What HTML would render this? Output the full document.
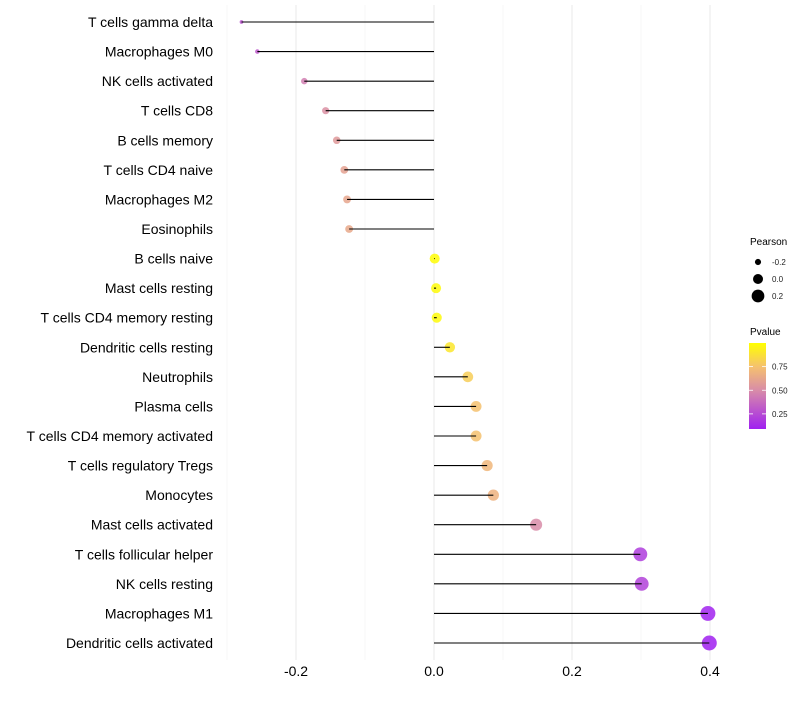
<!DOCTYPE html>
<html><head><meta charset="utf-8"><style>
body{margin:0;background:#fff;}
svg text{font-family:"Liberation Sans",sans-serif;}
</style></head><body>
<svg id="chart" width="800" height="700" xmlns="http://www.w3.org/2000/svg">
<g id="grid"></g>
<g id="ylabels"></g>
<g id="xlabels"></g>
<g id="marks"></g>
<g id="legend">
<text x="750" y="245" font-size="10" fill="#000">Pearson</text>
<text x="750" y="335" font-size="10" fill="#000">Pvalue</text>
<defs><linearGradient id="pg" x1="0" y1="1" x2="0" y2="0">
<stop offset="0" stop-color="#a020f0"/><stop offset="0.45" stop-color="#d88ca8"/><stop offset="0.72" stop-color="#f5c070"/><stop offset="1" stop-color="#ffff00"/>
</linearGradient></defs>
<rect x="749" y="343" width="17" height="86" fill="url(#pg)"/>
</g>
</svg>
<script>
const categories=["T cells gamma delta","Macrophages M0","NK cells activated","T cells CD8","B cells memory","T cells CD4 naive","Macrophages M2","Eosinophils","B cells naive","Mast cells resting","T cells CD4 memory resting","Dendritic cells resting","Neutrophils","Plasma cells","T cells CD4 memory activated","T cells regulatory  Tregs ","Monocytes","Mast cells activated","T cells follicular helper","NK cells resting","Macrophages M1","Dendritic cells activated"];
const pearson=[-0.279,-0.256,-0.188,-0.157,-0.141,-0.130,-0.126,-0.123,0.001,0.003,0.004,0.023,0.049,0.061,0.061,0.077,0.086,0.148,0.299,0.301,0.397,0.399];
const pvalue=[0.28,0.3,0.45,0.52,0.56,0.6,0.62,0.63,0.99,0.98,0.98,0.9,0.8,0.75,0.75,0.7,0.68,0.5,0.2,0.22,0.1,0.09];
const xTicks=[-0.2,0,0.2,0.4];
const xTickLabels=["-0.2","0.0","0.2","0.4"];
const xMinor=[-0.3,-0.1,0.1,0.3];
const sizeTicks=[-0.2,0,0.2];
const sizeTickLabels=["-0.2","0.0","0.2"];
const colorTicks=[0.25,0.5,0.75];
const colorTickLabels=["0.25","0.50","0.75"];

const NS="http://www.w3.org/2000/svg";
const X=v=>434+v*690;
const Y=i=>22+i*(621/21);
const R=v=>Math.sqrt(Math.max(1,25+77.5*v));
const stops=[[0,[160,32,240]],[0.45,[216,140,168]],[0.72,[245,192,112]],[1,[255,255,0]]];
const CB0=0.09,CB1=1.0;
function col(p){let t=(p-CB0)/(CB1-CB0);t=Math.max(0,Math.min(1,t));
 for(let k=1;k<stops.length;k++){if(t<=stops[k][0]){const a=stops[k-1],b=stops[k];const f=(t-a[0])/(b[0]-a[0]);
 return "rgb("+a[1].map((c,j)=>Math.round(c+(b[1][j]-c)*f)).join(",")+")";}}return "rgb(255,255,0)";}
function mk(tag,attrs,parent){const e=document.createElementNS(NS,tag);for(const k in attrs)e.setAttribute(k,attrs[k]);parent.appendChild(e);return e;}
const grid=document.getElementById('grid'),yl=document.getElementById('ylabels'),xl=document.getElementById('xlabels'),marks=document.getElementById('marks'),leg=document.getElementById('legend');
xMinor.forEach(v=>{const l=mk('line',{x1:X(v),x2:X(v),y1:5,y2:660,stroke:'#f2f2f2','stroke-width':0.6},grid);

});
xTicks.forEach((v,i)=>{const l=mk('line',{x1:X(v),x2:X(v),y1:5,y2:660,stroke:'#ebebeb','stroke-width':1.1},grid);


const t=mk('text',{x:X(v),y:676,'font-size':14,'text-anchor':'middle',fill:'#000'},xl);t.textContent=xTickLabels[i];

});
categories.forEach((c,i)=>{const y=Y(i);
 const t=mk('text',{x:213,y:y+5,'font-size':14,'text-anchor':'end',fill:'#000'},yl);t.textContent=c;
 
 
 const d=mk('circle',{cx:X(pearson[i]),cy:y,r:R(pearson[i]),fill:col(pvalue[i]),'fill-opacity':0.85},marks);
 
 
 const l=mk('line',{x1:X(0),x2:X(pearson[i]),y1:y,y2:y,stroke:'#000','stroke-width':1.1},marks);
 
 
});
sizeTicks.forEach((v,i)=>{const y=262+i*17;
 const c=mk('circle',{cx:758,cy:y,r:R(v),fill:'#000'},leg);
 
 
 const t=mk('text',{x:772,y:y+3,'font-size':8,fill:'#222'},leg);t.textContent=sizeTickLabels[i];
 
 });
colorTicks.forEach((v,i)=>{const y=343+(CB1-v)/(CB1-CB0)*86;
 const l=mk('line',{x1:749,x2:753,y1:y,y2:y,stroke:'#fff','stroke-width':0.8},leg);
 
 
 const l2=mk('line',{x1:762,x2:766,y1:y,y2:y,stroke:'#fff','stroke-width':0.8},leg);
 
 
 const t=mk('text',{x:772,y:y+3,'font-size':8,fill:'#222'},leg);t.textContent=colorTickLabels[i];
 
 });
</script>
</body></html>
